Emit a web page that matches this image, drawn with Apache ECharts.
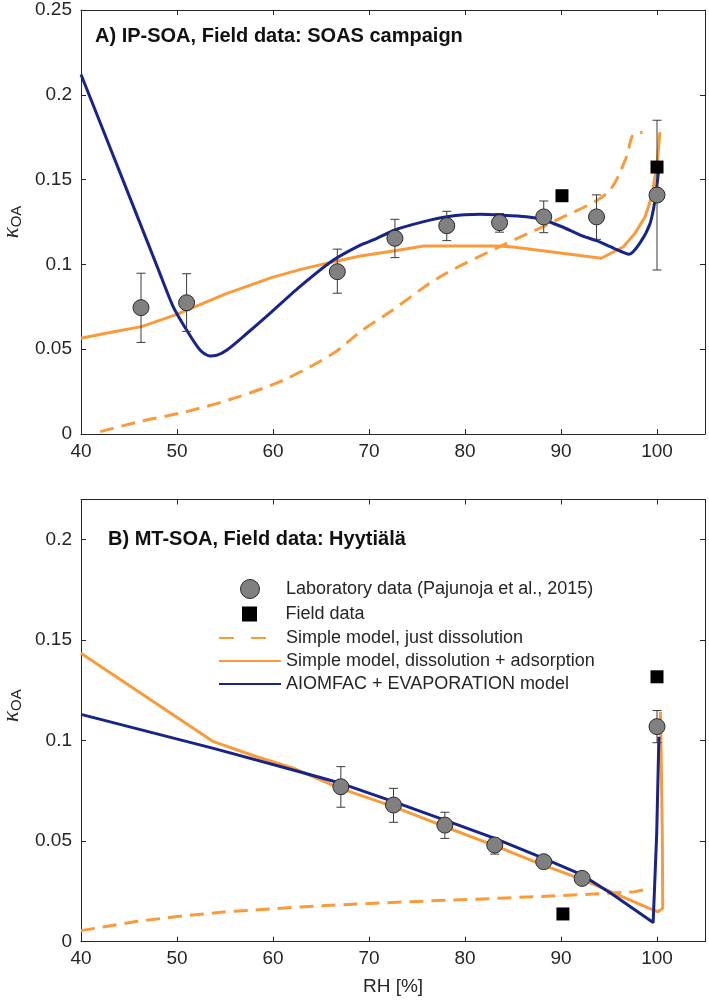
<!DOCTYPE html>
<html>
<head>
<meta charset="utf-8">
<script src="https://cdn.jsdelivr.net/npm/echarts@6/dist/echarts.min.js"></script>
<style>
  html, body { margin: 0; padding: 0; background: #fff; }
  #chart { width: 709px; height: 1002px; }
</style>
</head>
<body>
<div id="chart"></div>
<script>
// --- Panel A: IP-SOA, SOAS campaign -------------------------------------------
var ipLabX  = [46.25, 51.0, 66.7, 72.7, 78.1, 83.6, 88.2, 93.7, 100.0];
var ipLabY  = [0.0745, 0.0774, 0.0957, 0.1154, 0.1228, 0.1246, 0.128, 0.128, 0.1409];
var ipLabLo = [0.054, 0.0605, 0.083, 0.104, 0.114, 0.119, 0.1187, 0.1148, 0.0967];
var ipLabHi = [0.0948, 0.0945, 0.109, 0.1266, 0.1313, 0.130, 0.1374, 0.141, 0.185];
var ipField = [[90.1, 0.1405], [100, 0.1574]];
var ipDissolution = [[42, 0.0014], [46.1, 0.0073], [51, 0.0132], [55.9, 0.021], [61.1, 0.0318],
  [66.3, 0.0476], [69.1, 0.0603], [72.2, 0.0721], [77.4, 0.0927], [83.6, 0.1104], [89.5, 0.126],
  [94.8, 0.142], [96.7, 0.1616], [97.4, 0.1753], [97.9, 0.1778], [98.5, 0.1778]];
var ipAdsorption = [[40, 0.0564], [43, 0.0598], [46.3, 0.0633], [50, 0.0705], [55, 0.0825],
  [60, 0.0925], [63, 0.0972], [66.3, 0.1016], [69.1, 0.105], [72.7, 0.108], [75.7, 0.1108],
  [83.6, 0.1108], [85, 0.1102], [94.2, 0.1036], [96.5, 0.1104], [97.7, 0.1183], [98.75, 0.128],
  [99.45, 0.140], [99.97, 0.158], [100.2, 0.171], [100.3, 0.178]];
var ipAiomfac = [[40, 0.212], [42, 0.1835], [44, 0.155], [46, 0.1264], [48, 0.0978], [49.6, 0.0751],
  [51, 0.0613], [52.4, 0.0495], [53.4, 0.046], [54.2, 0.0465], [55.2, 0.0495], [57.3, 0.0594],
  [59.3, 0.0692], [62.8, 0.0869], [66.3, 0.1026], [69.1, 0.1114], [70.45, 0.1144], [72.7, 0.1203],
  [75.7, 0.1252], [78.1, 0.1281], [81.6, 0.1295], [83.6, 0.1291], [86.4, 0.1281], [88.2, 0.1262],
  [90.1, 0.1222], [92, 0.1173], [93.7, 0.114], [95.5, 0.1095], [97.1, 0.106], [98.2, 0.1124],
  [99.27, 0.124], [99.8, 0.138], [100.1, 0.152], [100.2, 0.158]];

// --- Panel B: MT-SOA, Hyytiala -------------------------------------------------
var mtLabX  = [67.07, 72.55, 77.9, 83.1, 88.2, 92.2, 100.0];
var mtLabY  = [0.0771, 0.068, 0.058, 0.0481, 0.0398, 0.0315, 0.107];
var mtLabLo = [0.0669, 0.0594, 0.0514, 0.0436, 0.0392, 0.0312, 0.099];
var mtLabHi = [0.0871, 0.0763, 0.0644, 0.0505, 0.0404, 0.0318, 0.115];
var mtField = [[90.2, 0.0138], [100, 0.1318]];
var mtDissolution = [[40, 0.0055], [45.7, 0.0100], [50, 0.0125], [55.2, 0.0149], [64.6, 0.0178],
  [74.1, 0.0199], [83.5, 0.0216], [92.9, 0.0236], [97.7, 0.0249], [99.4, 0.0266]];
var mtAdsorption = [[40, 0.1435], [53.8, 0.0995], [58, 0.0925], [62.1, 0.0863], [67, 0.0763],
  [72.55, 0.0672], [77.9, 0.0572], [83.1, 0.0478], [88.2, 0.038], [92.2, 0.031], [96, 0.0232],
  [99.45, 0.0161], [100.1, 0.0149], [100.6, 0.0166], [100.55, 0.054], [100.4, 0.1038], [100.35, 0.1144]];
var mtAiomfac = [[40, 0.1131], [53.8, 0.0962], [62.1, 0.0854], [67.07, 0.0788], [72.55, 0.0697],
  [77.9, 0.0605], [83.1, 0.0514], [88.2, 0.0415], [92.2, 0.0332], [95.2, 0.0241], [99.6, 0.0095],
  [99.97, 0.0539], [100.2, 0.102]];

var NAME_LAB = 'Laboratory data (Pajunoja et al., 2015)';
var NAME_FIELD = 'Field data';
var NAME_DISS = 'Simple model, just dissolution';
var NAME_ADS = 'Simple model, dissolution + adsorption';
var NAME_AIOM = 'AIOMFAC + EVAPORATION model';

var ORANGE = '#f99b3b';
var NAVY = '#17248a';
var INK = '#262626';
var FONT = '"Liberation Sans", Arial, sans-serif';
var NO_SYMBOL = { color: 'rgba(0,0,0,0)', borderWidth: 0, opacity: 0 };
var SQUARE = 'path://M0,0L10,0L10,10L0,10Z';

function zip(xs, ys) { return xs.map(function (x, i) { return [x, ys[i]]; }); }
function zip3(xs, lo, hi) { return xs.map(function (x, i) { return [x, lo[i], hi[i]]; }); }

function renderErrorBar(params, api) {
  var x = api.value(0);
  var top = api.coord([x, api.value(2)]);
  var bot = api.coord([x, api.value(1)]);
  var w = 4.5;
  var st = { stroke: '#3a3a3a', lineWidth: 1 };
  return {
    type: 'group',
    children: [
      { type: 'line', shape: { x1: top[0], y1: top[1], x2: bot[0], y2: bot[1] }, style: st },
      { type: 'line', shape: { x1: top[0] - w, y1: top[1], x2: top[0] + w, y2: top[1] }, style: st },
      { type: 'line', shape: { x1: bot[0] - w, y1: bot[1], x2: bot[0] + w, y2: bot[1] }, style: st }
    ]
  };
}

// --- Axis builders -----------------------------------------------------------
function xAxisFor(grid, pos, withLabels, withName) {
  return {
    gridIndex: grid, type: 'value', position: pos, min: 40, max: 105, interval: 10,
    name: withName ? 'RH [%]' : '', nameLocation: 'middle', nameGap: 36,
    nameTextStyle: { fontFamily: FONT, fontSize: 19, color: INK },
    axisLine: { onZero: false, lineStyle: { color: INK, width: 1 } },
    axisTick: { inside: true, length: 5, lineStyle: { color: INK } },
    axisLabel: { show: withLabels, fontFamily: FONT, fontSize: 19, color: INK, margin: 8, showMaxLabel: false },
    splitLine: { show: false }
  };
}

function yAxisFor(grid, pos, max, withLabels, namePad) {
  return {
    gridIndex: grid, type: 'value', position: pos, min: 0, max: max, interval: 0.05,
    name: withLabels ? '{k|κ}{s|OA}' : '', nameLocation: 'middle', nameRotate: 90, nameGap: 52,
    nameTextStyle: {
      padding: namePad,
      rich: {
        k: { fontFamily: '"Liberation Serif", serif', fontStyle: 'italic', fontSize: 23, lineHeight: 22, color: INK },
        s: { fontFamily: FONT, fontSize: 15, lineHeight: 15, padding: [10, 0, 0, 0], color: INK }
      }
    },
    axisLine: { onZero: false, lineStyle: { color: INK, width: 1 } },
    axisTick: { inside: true, length: 5, lineStyle: { color: INK } },
    axisLabel: { show: withLabels, fontFamily: FONT, fontSize: 19, color: INK, margin: 9, showMaxLabel: max === 0.25 },
    splitLine: { show: false }
  };
}

function lineSeries(name, data, ax, opts) {
  return Object.assign({
    name: name, type: 'line', data: data, xAxisIndex: ax, yAxisIndex: ax,
    symbol: 'none', smooth: false, z: 2, silent: true, animation: false,
    lineStyle: { width: 3, color: ORANGE },
    itemStyle: { color: ORANGE }
  }, opts || {});
}

function panelSeries(ax, lab, lo, hi, labY, field, diss, ads, aiom, smooth) {
  return [
    lineSeries(NAME_DISS, diss, ax, { smooth: smooth ? 0.3 : false, lineStyle: { width: 3, color: ORANGE, type: [14, 8] } }),
    lineSeries(NAME_ADS, ads, ax),
    lineSeries(NAME_AIOM, aiom, ax, { smooth: smooth ? 0.25 : false, lineStyle: { width: 3, color: NAVY }, itemStyle: { color: NAVY } }),
    {
      type: 'custom', xAxisIndex: ax, yAxisIndex: ax, z: 3, silent: true, animation: false,
      data: zip3(lab, lo, hi), renderItem: renderErrorBar
    },
    {
      name: NAME_LAB, type: 'scatter', xAxisIndex: ax, yAxisIndex: ax, z: 4, animation: false,
      data: zip(lab, labY), symbol: 'circle', symbolSize: 16,
      itemStyle: { color: '#808080', borderColor: '#2b2b2b', borderWidth: 1, opacity: 1 }
    },
    {
      name: NAME_FIELD, type: 'scatter', xAxisIndex: ax, yAxisIndex: ax, z: 5, animation: false,
      data: field, symbol: 'rect', symbolSize: 13,
      itemStyle: { color: '#000', opacity: 1 }
    }
  ];
}

var chart = echarts.init(document.getElementById('chart'), null, { renderer: 'canvas' });

var legendBase = {
  orient: 'vertical', left: 218, padding: 0, itemWidth: 62, selectedMode: false,
  symbolKeepAspect: true,
  textStyle: { fontFamily: FONT, fontSize: 18, color: INK }
};

chart.setOption({
  backgroundColor: '#fff',
  animation: false,
  title: [
    { text: 'A) IP-SOA, Field data: SOAS campaign', left: 95, top: 26, padding: 0,
      textStyle: { fontFamily: FONT, fontSize: 20, fontWeight: 'bold', color: '#111' } },
    { text: 'B) MT-SOA, Field data: Hyytiälä', left: 108, top: 529, padding: 0,
      textStyle: { fontFamily: FONT, fontSize: 20, fontWeight: 'bold', color: '#111' } }
  ],
  legend: [
    Object.assign({}, legendBase, { left: 240, top: 579, itemHeight: 19,
      data: [{ name: NAME_LAB, itemStyle: { color: '#808080', borderColor: '#2b2b2b', borderWidth: 1 } }] }),
    Object.assign({}, legendBase, { left: 242, top: 605, itemHeight: 15,
      data: [{ name: NAME_FIELD, icon: SQUARE, itemStyle: { color: '#000' } }] }),
    Object.assign({}, legendBase, { top: 629, itemHeight: 19, itemGap: 5,
      data: [
        { name: NAME_DISS, lineStyle: { type: [15, 17] }, itemStyle: NO_SYMBOL },
        { name: NAME_ADS, itemStyle: NO_SYMBOL },
        { name: NAME_AIOM, itemStyle: NO_SYMBOL }
      ] })
  ],
  grid: [
    { left: 81, top: 10, width: 624, height: 424, outerBoundsMode: 'none', containLabel: false },
    { left: 81, top: 499.5, width: 624, height: 442.2, outerBoundsMode: 'none', containLabel: false }
  ],
  xAxis: [
    xAxisFor(0, 'bottom', true, false),
    xAxisFor(0, 'top', false, false),
    xAxisFor(1, 'bottom', true, true),
    xAxisFor(1, 'top', false, false)
  ],
  yAxis: [
    yAxisFor(0, 'left', 0.25, true, [0, 0, 0, 0]),
    yAxisFor(0, 'right', 0.25, false, 0),
    yAxisFor(1, 'left', 0.22, true, [0, 0, 0, 30]),
    yAxisFor(1, 'right', 0.22, false, 0)
  ],
  series: []
    .concat(panelSeries(0, ipLabX, ipLabLo, ipLabHi, ipLabY, ipField, ipDissolution, ipAdsorption, ipAiomfac, true))
    .concat(panelSeries(2, mtLabX, mtLabLo, mtLabHi, mtLabY, mtField, mtDissolution, mtAdsorption, mtAiomfac, false))
});
</script>
</body>
</html>
